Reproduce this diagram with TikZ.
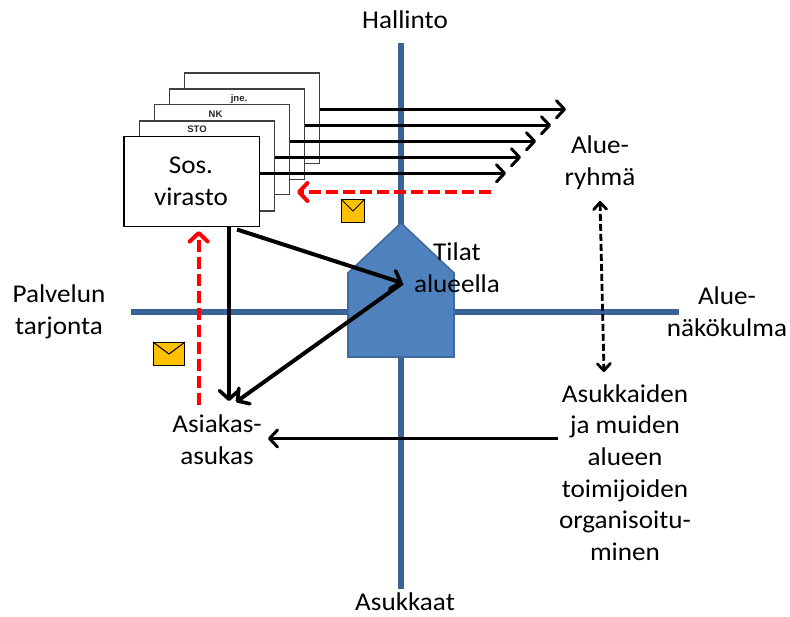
\documentclass[tikz,border=0pt]{standalone}
\usepackage{fontspec}
\setmainfont{Carlito}[FakeStretch=1.06]
\newfontfamily\smallfont{Liberation Sans}
\usetikzlibrary{arrows.meta}
\definecolor{axisblue}{HTML}{3B6397}
\definecolor{housefill}{HTML}{4F81BD}
\definecolor{houseline}{HTML}{3E6A9E}
\definecolor{envfill}{HTML}{FFC000}
\tikzset{
  axisline/.style={draw=axisblue,line width=6pt},
  label/.style={font=\fontsize{25.6}{31.7}\selectfont,align=center,inner sep=0pt,text=black},
  card/.style={draw=black!75,fill=white,line width=1.2pt,inner sep=0pt,anchor=north west},
  tag/.style={font=\smallfont\bfseries\fontsize{9.5}{11}\selectfont,inner sep=0pt,text=black!85},
  barb/.style={-{Straight Barb[length=8pt,width=17pt,line width=3pt,round]}},
  flow/.style={draw=black,line width=3pt,barb},
  thick flow/.style={draw=black,line width=4pt,-{Straight Barb[length=8.5pt,width=19pt,line width=3.6pt,round]}},
  feedback/.style={draw=red,line width=4pt,dash pattern=on 12pt off 5pt,
    -{Straight Barb[length=8.5pt,width=18pt,line width=4pt,round]}},
  link/.style={draw=black,line width=2.8pt,dash pattern=on 7pt off 3pt,
    {Straight Barb[length=7pt,width=13pt,line width=2.8pt,round]}-{Straight Barb[length=7pt,width=13pt,line width=2.8pt,round]}},
  envelope/.style={draw=black,fill=envfill,line width=1pt,inner sep=0pt,anchor=north west},
}
\begin{document}
\begin{tikzpicture}[x=1pt,y=-1pt]
\useasboundingbox (0,0) rectangle (790,616);
% axes
\coordinate (vtop) at (401,43);
\coordinate (vbot) at (401,589);
\coordinate (hleft) at (131,311.5);
\coordinate (hright) at (679,311.5);
\draw[axisline] (vtop) -- (vbot);
\draw[axisline] (hleft) -- (hright);
% house
\draw[fill=housefill,draw=houseline,line width=1.6pt,line join=miter]
  (401,223) -- (454,273) -- (454,357) -- (348,357) -- (348,273) -- cycle;
% stacked cards
\node[card,minimum width=135.5pt,minimum height=90.5pt] (c5) at (183.5,72.3) {};
\node[card,minimum width=134.5pt,minimum height=90.5pt] (c4) at (169,88.3) {};
\node[tag] (tjne) at (239,99.5) {jne.};
\node[card,minimum width=135pt,minimum height=90pt] (c3) at (153.7,104.2) {};
\node[tag] (tnk) at (215.5,114) {NK};
\node[card,minimum width=135pt,minimum height=90pt] (c2) at (138.8,120.3) {};
\node[tag] (tsto) at (197,129.5) {STO};
\node[card,draw=black,minimum width=135.5pt,minimum height=90pt] (c1) at (123.3,136) {};
\node[label] (sos) at (191,181) {Sos.\\virasto};
% text labels
\node[label] (hallinto) at (405,20) {Hallinto};
\node[label] (asukkaat) at (405,602) {Asukkaat};
\node[label] (ryhma) at (600,162.5) {Alue-\\ryhmä};
\node[label] (palvelu) at (59,311.5) {Palvelun\\tarjonta};
\node[label] (nako) at (727,311.5) {Alue-\\näkökulma};
\node[label] (tilat) at (457,267.5) {Tilat\\alueella};
\node[label] (asiakas) at (217,439.5) {Asiakas-\\asukas};
\node[label] (org) at (625,472.5) {Asukkaiden\\ja muiden\\alueen\\toimijoiden\\organisoitu-\\minen};
% horizontal arrows from the cards
\coordinate (e5) at (566,109.3);
\coordinate (e4) at (551,125.3);
\coordinate (e3) at (536,141.3);
\coordinate (e2) at (521,157.3);
\coordinate (e1) at (506,173.3);
\draw[flow] (c5.east |- e5) -- (e5);
\draw[flow] (c4.east |- e4) -- (e4);
\draw[flow] (c3.east |- e3) -- (e3);
\draw[flow] (c2.east |- e2) -- (e2);
\draw[flow] (c1.east |- e1) -- (e1);
% other arrows
\coordinate (redstart) at (491,192);
\coordinate (redend) at (297,192);
\draw[feedback] (redstart) -- (redend);
\coordinate (upstart) at (198.7,405);
\coordinate (upend) at (198.7,231);
\draw[feedback] (upstart) -- (upend);
\coordinate (downend) at (229,401);
\draw[thick flow] (c1.south -| downend) -- (downend);
\coordinate (diagstart) at (237,229.5);
\coordinate (hub) at (402.5,283);
\coordinate (client) at (236,402);
\draw[thick flow] (diagstart) -- (hub);
\draw[thick flow] (hub) -- (client);
\coordinate (orgstart) at (558,438.5);
\coordinate (orgend) at (268,438.5);
\draw[flow] (orgstart) -- (orgend);
\coordinate (linktop) at (600,201);
\coordinate (linkbot) at (604,372);
\draw[link] (linktop) -- (linkbot);
% envelopes
\node[envelope,minimum width=23pt,minimum height=23pt] (env1) at (341,199) {};
\draw[line width=1pt] (env1.north west) -- ([yshift=-12pt]env1.north) -- (env1.north east);
\node[envelope,minimum width=31pt,minimum height=22.5pt] (env2) at (153,342) {};
\draw[line width=1pt] (env2.north west) -- ([yshift=-12pt]env2.north) -- (env2.north east);
\end{tikzpicture}
\end{document}
